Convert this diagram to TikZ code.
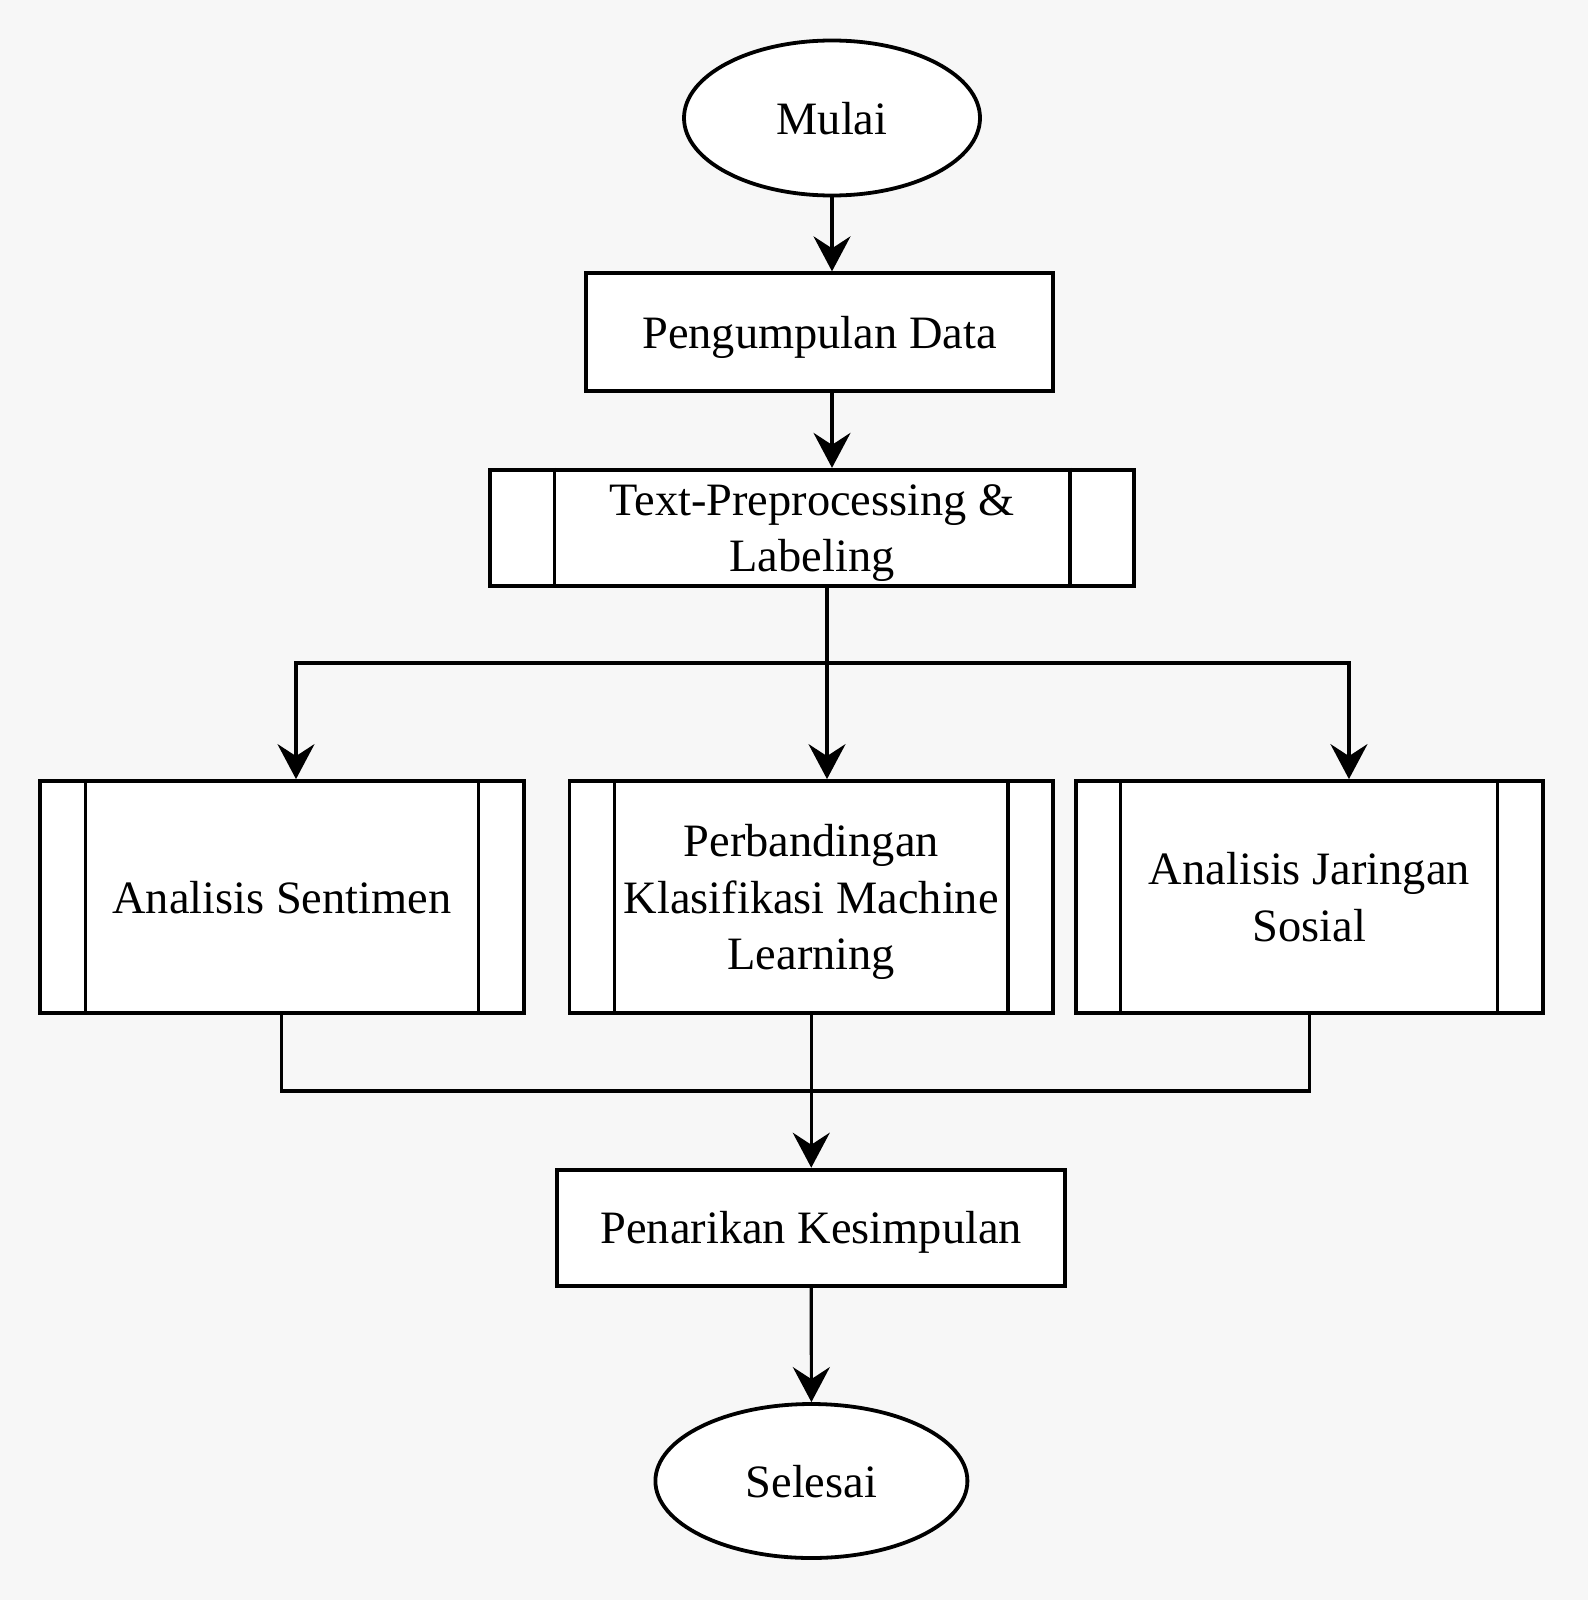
\documentclass[tikz,border=0pt]{standalone}
\usepackage{fontspec}
\setmainfont{Liberation Serif}
\usetikzlibrary{shapes.geometric, arrows.meta}
\definecolor{bgcol}{HTML}{F7F7F7}

\begin{document}
\begin{tikzpicture}[
    x=0.5pt, y=-0.5pt,
    every node/.style={font=\fontsize{23.2}{28.2}\selectfont, align=center},
    terminal/.style={ellipse, draw=black, fill=white, line width=1.9pt, inner sep=0pt, text depth=0pt},
    process/.style={rectangle, draw=black, fill=white, line width=1.9pt, inner sep=0pt, text depth=0pt},
    flow/.style={draw=black, line width=1.6pt},
    arrow/.style={flow, -{Stealth[length=17.5pt, width=18.5pt, inset=6pt]}}
]

% --- background and page size ---
\fill[bgcol] (0,0) rectangle (1588,1600);
\useasboundingbox (0,0) rectangle (1588,1600);

% --- Nodes ---
\node[terminal, minimum width=148pt, minimum height=77.5pt] (mulai) at (832,118) {Mulai};
\node[process, minimum width=233.5pt, minimum height=58.75pt] (kumpul) at (819.5,332) {Pengumpulan Data};
\node[process, minimum width=322pt, minimum height=58.25pt] (prepro) at (812,528) {Text-Preprocessing \&\\Labeling};
\node[process, minimum width=241.8pt, minimum height=116pt] (senti) at (281.8,897) {Analisis Sentimen};
\node[process, minimum width=241.75pt, minimum height=116pt] (banding) at (811.25,897) {Perbandingan\\Klasifikasi Machine\\Learning};
\node[process, minimum width=233.6pt, minimum height=116pt] (jaring) at (1309.35,897) {Analisis Jaringan\\Sosial};
\node[process, minimum width=254pt, minimum height=58.2pt] (simpul) at (811.25,1227.8) {Penarikan Kesimpulan};
\node[terminal, minimum width=156pt, minimum height=77pt] (selesai) at (811.4,1481) {Selesai};

% --- inner bars of the predefined processes ---
\foreach \n/\d in {prepro/33pt, senti/23.5pt, banding/23.5pt, jaring/23.5pt} {
    \draw[flow] ([xshift=\d]\n.north west) -- ([xshift=\d]\n.south west);
    \draw[flow] ([xshift=-\d]\n.north east) -- ([xshift=-\d]\n.south east);
}

% --- Connectors ---
\coordinate (split) at (827,663);
\coordinate (merge) at (811.25,1091);
\draw[arrow] (mulai.south) -- (kumpul.north -| mulai.south);
\draw[arrow] (kumpul.south -| mulai.south) -- (prepro.north -| mulai.south);
\draw[flow] (prepro.south -| split) -- (split);
\draw[arrow] (split) -| ([xshift=7.1pt]senti.north);
\draw[arrow] (split) -- (banding.north -| split);
\draw[arrow] (split) -| ([xshift=19.8pt]jaring.north);
\draw[flow] (senti.south) |- (merge);
\draw[flow] (jaring.south) |- (merge);
\draw[arrow] (banding.south) -- (simpul.north);
\draw[arrow] (simpul.south) -- (selesai.north);

\end{tikzpicture}
\end{document}
